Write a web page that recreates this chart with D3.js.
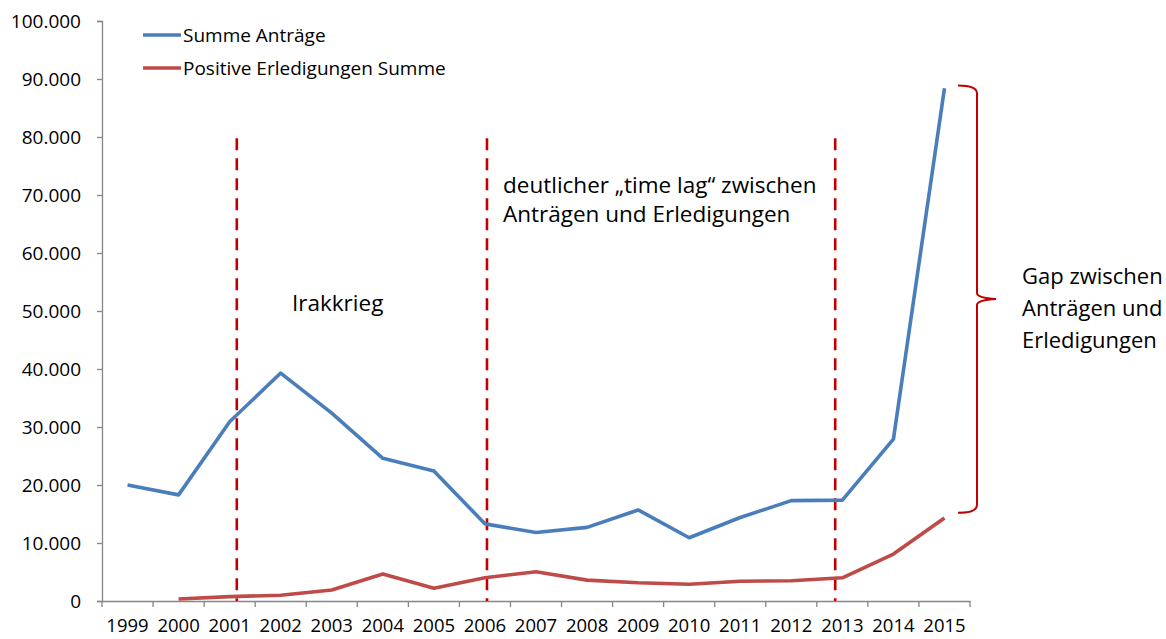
<!DOCTYPE html>
<html>
<head>
<meta charset="utf-8">
<script src="https://cdn.jsdelivr.net/npm/d3@7"></script>
<style>
  body { margin: 0; background: #fff; }
  text { font-family: "Open Sans", sans-serif; fill: #000; }
</style>
</head>
<body>
<div id="chart"></div>
<script>
// data
const years = ["1999","2000","2001","2002","2003","2004","2005","2006","2007","2008","2009","2010","2011","2012","2013","2014","2015"];
const summeAntraege = [20000, 18300, 30900, 39300, 32400, 24600, 22400, 13300, 11800, 12700, 15700, 10900, 14400, 17300, 17400, 27900, 88400];
const positiveErledigungen = [null, 350, 750, 1000, 1900, 4650, 2200, 4000, 5050, 3600, 3150, 2900, 3400, 3500, 4000, 8100, 14300];
const seriesNames = ["Summe Anträge", "Positive Erledigungen Summe"];
const yTicks = [0, 10000, 20000, 30000, 40000, 50000, 60000, 70000, 80000, 90000, 100000];
// annotation markers, in (fractional) years
const markerYears = [2001.14, 2006.04, 2012.86];

const width = 1166, height = 639;
const margin = {top: 21, right: 196, bottom: 38, left: 102};

const svg = d3.select("#chart").append("svg")
  .attr("width", width)
  .attr("height", height);

const x = d3.scaleBand()
  .domain(years)
  .range([margin.left, width - margin.right]);

// continuous year scale for annotations
const xYear = d3.scaleLinear()
  .domain([1998.5, 2015.5])
  .range([margin.left, width - margin.right]);

const y = d3.scaleLinear()
  .domain([0, 100000])
  .range([height - margin.bottom, margin.top]);

const de = d3.formatLocale({decimal: ",", thousands: ".", grouping: [3], currency: ["", " €"]});
const fmt = de.format(",d");

const axisColor = "#868686";

// y axis
const yAxis = svg.append("g")
  .attr("transform", "translate(" + margin.left + ",0)")
  .call(d3.axisLeft(y).tickValues(yTicks).tickFormat(fmt).tickSize(5).tickPadding(16));
yAxis.selectAll("text").attr("font-size", "19px").attr("font-family", "'Open Sans', sans-serif").attr("fill", "#000");
yAxis.selectAll("line, path").attr("stroke", axisColor).attr("stroke-width", 1.3);

// x axis - ticks between categories
const xAxis = svg.append("g")
  .attr("transform", "translate(0," + (height - margin.bottom) + ")")
  .call(d3.axisBottom(x).tickSize(0).tickPadding(18));
xAxis.select("path").attr("stroke", axisColor).attr("stroke-width", 1.3);
xAxis.selectAll("text").attr("font-size", "18.5px").attr("font-family", "'Open Sans', sans-serif").attr("fill", "#000");

svg.append("g")
  .selectAll("line")
  .data(d3.range(years.length + 1))
  .join("line")
  .attr("x1", i => margin.left + i * x.step())
  .attr("x2", i => margin.left + i * x.step())
  .attr("y1", height - margin.bottom)
  .attr("y2", height - margin.bottom + 6)
  .attr("stroke", axisColor)
  .attr("stroke-width", 1.3);

// lines
const line = d3.line()
  .defined(d => d[1] != null)
  .x(d => x(d[0]) + x.bandwidth() / 2)
  .y(d => y(d[1]));

const series = [
  {name: seriesNames[0], values: summeAntraege, color: "#4a7ebb"},
  {name: seriesNames[1], values: positiveErledigungen, color: "#be4b48"}
];

// dashed marker lines
svg.append("g")
  .selectAll("line")
  .data(markerYears)
  .join("line")
  .attr("x1", d => xYear(d))
  .attr("x2", d => xYear(d))
  .attr("y1", y(79800))
  .attr("y2", y(0))
  .attr("stroke", "#c00000")
  .attr("stroke-width", 2.6)
  .attr("stroke-dasharray", "12,8");

svg.append("g")
  .selectAll("path")
  .data(series)
  .join("path")
  .attr("d", s => line(years.map((yr, i) => [yr, s.values[i]])))
  .attr("fill", "none")
  .attr("stroke", s => s.color)
  .attr("stroke-width", 3.6)
  .attr("stroke-linejoin", "round");

// legend
const legend = svg.append("g");
series.forEach((s, i) => {
  const ly = 35 + i * 33;
  legend.append("line")
    .attr("x1", 143).attr("x2", 181)
    .attr("y1", ly).attr("y2", ly)
    .attr("stroke", s.color)
    .attr("stroke-width", 3.6);
  legend.append("text")
    .attr("x", 183).attr("y", ly)
    .attr("dy", "0.35em")
    .attr("font-size", "19px")
    .text(s.name);
});

// annotations
svg.append("text")
  .attr("x", 292).attr("y", 303).attr("dy", "0.35em")
  .attr("font-size", "22.5px")
  .text("Irakkrieg");

svg.append("text")
  .attr("x", 503).attr("y", 185).attr("dy", "0.35em")
  .attr("font-size", "22.5px")
  .text("deutlicher „time lag“ zwischen");
svg.append("text")
  .attr("x", 503).attr("y", 214).attr("dy", "0.35em")
  .attr("font-size", "22.5px")
  .text("Anträgen und Erledigungen");

// curly brace for the gap
const bx = 977, bTop = y(88900), bBot = y(15200), bMid = (bTop + bBot) / 2;
const brace = d3.path();
brace.moveTo(958, bTop);
brace.quadraticCurveTo(bx, bTop, bx, bTop + 8);
brace.lineTo(bx, bMid - 6);
brace.quadraticCurveTo(bx, bMid - 1, 996, bMid);
brace.quadraticCurveTo(bx, bMid + 1, bx, bMid + 6);
brace.lineTo(bx, bBot - 8);
brace.quadraticCurveTo(bx, bBot, 958, bBot);
svg.append("path")
  .attr("d", brace.toString())
  .attr("fill", "none")
  .attr("stroke", "#c00000")
  .attr("stroke-width", 2);

const gapLines = ["Gap zwischen", "Anträgen und", "Erledigungen"];
svg.append("g")
  .selectAll("text")
  .data(gapLines)
  .join("text")
  .attr("x", 1022)
  .attr("y", (d, i) => 276 + i * 32)
  .attr("dy", "0.35em")
  .attr("font-size", "22px")
  .text(d => d);
</script>
</body>
</html>
